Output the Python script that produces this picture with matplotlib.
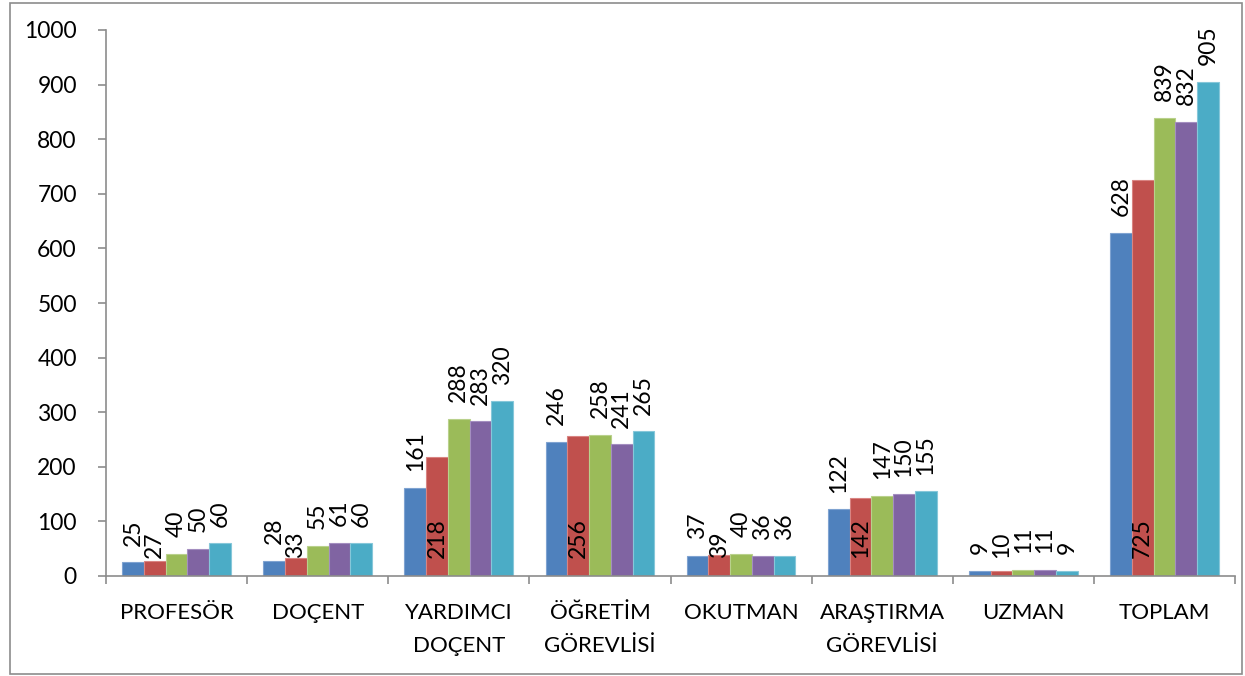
import matplotlib
matplotlib.use("Agg")
import matplotlib.pyplot as plt
from matplotlib.patches import Rectangle
import numpy as np

categories = ["PROFESÖR", "DOÇENT", "YARDIMCI\nDOÇENT", "ÖĞRETİM\nGÖREVLİSİ",
              "OKUTMAN", "ARAŞTIRMA\nGÖREVLİSİ", "UZMAN", "TOPLAM"]
series1 = [25, 28, 161, 246, 37, 122, 9, 628]
series2 = [27, 33, 218, 256, 39, 142, 10, 725]
series3 = [40, 55, 288, 258, 40, 147, 11, 839]
series4 = [50, 61, 283, 241, 36, 150, 11, 832]
series5 = [60, 60, 320, 265, 36, 155, 9, 905]
yticks = [0, 100, 200, 300, 400, 500, 600, 700, 800, 900, 1000]

all_series = [series1, series2, series3, series4, series5]
colors = ["#4F81BD", "#C0504D", "#9BBB59", "#8064A2", "#4BACC6"]
edges = ["#7FA3D1", "#D98482", "#B9D18C", "#A48EC0", "#86C7D9"]

plt.rcParams['font.family'] = ['Lato', 'DejaVu Sans']

fig = plt.figure(figsize=(12.45, 6.76), dpi=100)
ax = fig.add_axes([106/1245, 1-576/676, (1235-106)/1245, (576-30)/676])

# outer border
fig.patches.append(Rectangle((10/1245, 2/676), (1242-10)/1245, (673-2)/676,
                             transform=fig.transFigure, fill=False,
                             edgecolor="#8C8C8C", linewidth=1.2))

x = np.arange(len(categories))
w = 0.154
fs = 16.5
for j, (vals, c, e) in enumerate(zip(all_series, colors, edges)):
    xs = x + (j - 2) * w
    ax.bar(xs, vals, width=w, color=c, edgecolor=e, linewidth=0.8, zorder=2)
    for xi, v in zip(xs, vals):
        if j == 1:
            ax.annotate(str(v), (xi, 0), xytext=(0, 13), textcoords="offset points",
                        rotation=90, ha="center", va="bottom", fontsize=fs, color="black")
        else:
            ax.annotate(str(v), (xi, v), xytext=(0, 12), textcoords="offset points",
                        rotation=90, ha="center", va="bottom", fontsize=fs, color="black")

ax.set_xlim(-0.5, len(categories) - 0.5)
ax.set_ylim(0, 1000)
ax.set_yticks(yticks)
ax.set_yticklabels([str(t) for t in yticks], fontsize=fs)
ax.set_xticks(x)
ax.set_xticklabels(categories, fontsize=16, linespacing=1.8, va="top")
ax.set_xticks(np.arange(len(categories) + 1) - 0.5, minor=True)
ax.tick_params(axis="x", which="major", length=0, pad=19.5)
ax.tick_params(axis="x", which="minor", length=6, width=1.2, color="#8C8C8C")
ax.tick_params(axis="y", length=6, width=1.2, color="#8C8C8C", pad=15)

for s in ["top", "right"]:
    ax.spines[s].set_visible(False)
for s in ["left", "bottom"]:
    ax.spines[s].set_color("#8C8C8C")
    ax.spines[s].set_linewidth(1.2)

fig.savefig("out.png", dpi=100)
